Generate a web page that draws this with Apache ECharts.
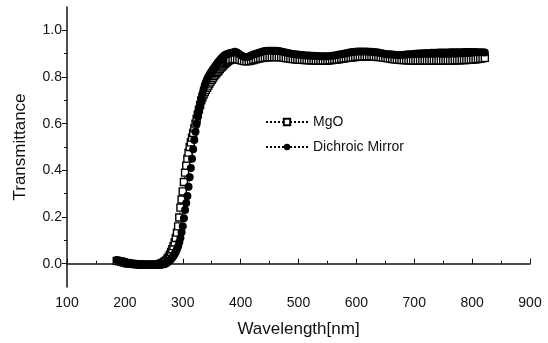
<!DOCTYPE html>
<html>
<head>
<meta charset="utf-8">
<script src="https://cdn.jsdelivr.net/npm/echarts@6/dist/echarts.min.js"></script>
<style>
  html, body { margin: 0; padding: 0; background: #fff; }
  #chart { width: 548px; height: 343px; }
</style>
</head>
<body>
<div id="chart"></div>
<script>
// wavelength samples (nm), shared by both curves
const wavelength = [
  186, 190, 194, 198, 202, 206, 210, 214, 218, 222, 226, 230, 234, 238, 242, 246, 250, 254, 258, 262,
  264, 266, 268, 270, 272, 274, 276, 278, 280, 282, 284, 286, 288, 290, 292, 294, 296, 298, 300, 302,
  304, 306, 308, 310, 312, 314, 316, 318, 320, 322, 324, 326, 328, 330, 332, 334, 336, 338, 340, 342,
  344, 346, 348, 350, 352, 354, 356, 358, 360, 362, 364, 366, 368, 370, 372, 374, 376, 378, 380, 382,
  386, 390, 394, 398, 402, 406, 410, 414, 418, 422, 426, 430, 434, 438, 442, 446, 450, 454, 458, 462,
  466, 470, 474, 478, 482, 486, 490, 494, 498, 502, 506, 510, 514, 518, 522, 526, 530, 534, 538, 542,
  546, 550, 554, 558, 562, 566, 570, 574, 578, 582, 586, 590, 594, 598, 602, 606, 610, 614, 618, 622,
  626, 630, 634, 638, 642, 646, 650, 654, 658, 662, 666, 670, 674, 678, 682, 686, 690, 694, 698, 702,
  706, 710, 714, 718, 722, 726, 730, 734, 738, 742, 746, 750, 754, 758, 762, 766, 770, 774, 778, 782,
  786, 790, 794, 798, 802, 806, 810, 814, 818, 822
]

const mgo = [
  0.012, 0.010, 0.008, 0.005, 0.003, 0.001, 0.000, -0.001, -0.002, -0.003, -0.003, -0.004, -0.004, -0.004, -0.004, -0.004, -0.004, -0.003, -0.002, 0.000,
  0.002, 0.004, 0.007, 0.011, 0.016, 0.022, 0.030, 0.039, 0.050, 0.062, 0.075, 0.091, 0.110, 0.133, 0.160, 0.198, 0.240, 0.275, 0.310, 0.350,
  0.390, 0.420, 0.450, 0.476, 0.500, 0.520, 0.540, 0.560, 0.580, 0.600, 0.620, 0.640, 0.660, 0.680, 0.700, 0.713, 0.725, 0.735, 0.745, 0.754,
  0.763, 0.772, 0.780, 0.788, 0.795, 0.803, 0.810, 0.816, 0.822, 0.828, 0.834, 0.840, 0.845, 0.850, 0.855, 0.860, 0.864, 0.868, 0.872, 0.874,
  0.876, 0.877, 0.876, 0.874, 0.871, 0.868, 0.867, 0.868, 0.870, 0.873, 0.876, 0.878, 0.880, 0.882, 0.883, 0.884, 0.885, 0.885, 0.885, 0.885,
  0.885, 0.884, 0.883, 0.881, 0.880, 0.878, 0.877, 0.876, 0.875, 0.874, 0.874, 0.873, 0.873, 0.872, 0.872, 0.872, 0.871, 0.871, 0.871, 0.871,
  0.871, 0.871, 0.872, 0.873, 0.874, 0.875, 0.876, 0.878, 0.879, 0.881, 0.882, 0.883, 0.884, 0.886, 0.887, 0.888, 0.888, 0.889, 0.889, 0.889,
  0.889, 0.888, 0.887, 0.886, 0.885, 0.883, 0.882, 0.880, 0.879, 0.877, 0.876, 0.875, 0.874, 0.873, 0.873, 0.872, 0.872, 0.872, 0.871, 0.871,
  0.871, 0.871, 0.871, 0.871, 0.871, 0.871, 0.871, 0.871, 0.871, 0.871, 0.871, 0.871, 0.871, 0.871, 0.871, 0.871, 0.872, 0.872, 0.872, 0.873,
  0.873, 0.873, 0.874, 0.874, 0.875, 0.876, 0.877, 0.878, 0.880, 0.882
]

const dichroic = [
  0.016, 0.014, 0.011, 0.008, 0.005, 0.002, 0.000, -0.002, -0.003, -0.004, -0.005, -0.005, -0.006, -0.006, -0.006, -0.006, -0.006, -0.006, -0.006, -0.005,
  -0.004, -0.003, -0.002, 0.000, 0.003, 0.006, 0.010, 0.015, 0.020, 0.026, 0.033, 0.041, 0.050, 0.062, 0.075, 0.092, 0.110, 0.135, 0.160, 0.195,
  0.230, 0.260, 0.290, 0.330, 0.370, 0.410, 0.450, 0.490, 0.530, 0.565, 0.600, 0.630, 0.655, 0.680, 0.703, 0.727, 0.748, 0.765, 0.778, 0.790,
  0.800, 0.809, 0.817, 0.825, 0.832, 0.839, 0.846, 0.853, 0.860, 0.866, 0.872, 0.878, 0.883, 0.888, 0.892, 0.895, 0.897, 0.899, 0.901, 0.903,
  0.905, 0.908, 0.905, 0.898, 0.891, 0.887, 0.886, 0.888, 0.892, 0.896, 0.900, 0.903, 0.906, 0.909, 0.911, 0.912, 0.912, 0.912, 0.912, 0.912,
  0.911, 0.909, 0.907, 0.905, 0.903, 0.901, 0.899, 0.897, 0.896, 0.895, 0.894, 0.893, 0.892, 0.892, 0.891, 0.891, 0.890, 0.890, 0.889, 0.889,
  0.889, 0.889, 0.890, 0.891, 0.892, 0.894, 0.896, 0.898, 0.900, 0.902, 0.904, 0.906, 0.907, 0.908, 0.909, 0.909, 0.909, 0.909, 0.909, 0.908,
  0.908, 0.907, 0.906, 0.905, 0.903, 0.901, 0.899, 0.898, 0.897, 0.896, 0.895, 0.894, 0.894, 0.894, 0.895, 0.896, 0.897, 0.898, 0.899, 0.900,
  0.901, 0.901, 0.902, 0.902, 0.903, 0.903, 0.904, 0.904, 0.904, 0.905, 0.905, 0.905, 0.905, 0.905, 0.906, 0.906, 0.906, 0.906, 0.906, 0.906,
  0.907, 0.907, 0.907, 0.907, 0.907, 0.907, 0.906, 0.906, 0.906, 0.905
]

const seriesNames = ['MgO', 'Dichroic Mirror']
const yLabelTicks = [0, 0.2, 0.4, 0.6, 0.8, 1.0]
const yMinorTicks = [0.1, 0.3, 0.5, 0.7, 0.9]

const font = 'Liberation Sans, Arial, sans-serif'
const ink = '#111'

const chart = echarts.init(document.getElementById('chart'), null, { renderer: 'canvas' })

chart.setOption({
  animation: false,
  backgroundColor: '#fff',
  textStyle: { fontFamily: font, color: ink },
  grid: { left: 67, right: 18, top: 7, bottom: 56 },
  legend: {
    data: seriesNames,
    orient: 'vertical',
    left: 260,
    top: 110,
    itemWidth: 42,
    itemHeight: 8,
    itemGap: 11,
    textStyle: { fontSize: 14, color: ink, fontFamily: font },
  },
  xAxis: {
    type: 'value',
    min: 100,
    max: 900,
    interval: 100,
    name: 'Wavelength[nm]',
    nameLocation: 'middle',
    nameGap: 34,
    nameTextStyle: { fontSize: 17, color: ink },
    axisLine: { lineStyle: { color: ink, width: 1.5 } },
    axisTick: { inside: true, length: 5, lineStyle: { color: ink } },
    minorTick: { show: true, splitNumber: 2, length: 3, lineStyle: { color: ink } },
    axisLabel: { fontSize: 14, color: ink, margin: 9 },
    splitLine: { show: false },
  },
  yAxis: [
    {
      type: 'value',
      min: -0.1,
      max: 1.1,
      interval: 0.1,
      name: 'Transmittance',
      nameLocation: 'middle',
      nameGap: 38,
      nameTextStyle: { fontSize: 17, color: ink },
      axisLine: { lineStyle: { color: ink, width: 1.5 } },
      axisTick: { length: 5, customValues: yLabelTicks, lineStyle: { color: ink } },
      axisLabel: {
        fontSize: 14,
        color: ink,
        margin: 5,
        customValues: yLabelTicks,
        formatter: (v) => Number(v).toFixed(1),
      },
      splitLine: { show: false },
    },
    {
      type: 'value',
      position: 'left',
      min: -0.1,
      max: 1.1,
      interval: 0.1,
      axisLine: { show: false },
      axisTick: { length: 3, customValues: yMinorTicks, lineStyle: { color: ink } },
      axisLabel: { show: false },
      splitLine: { show: false },
    },
  ],
  series: [
    {
      name: 'MgO',
      type: 'line',
      z: 2,
      data: wavelength.map((w, i) => [w, mgo[i]]),
      symbol: 'rect',
      symbolSize: 7,
      showSymbol: true,
      itemStyle: { color: '#fff', borderColor: '#000', borderWidth: 1.4 },
      lineStyle: { color: '#000', width: 0.8, type: [2, 2] },
      emphasis: { disabled: true },
    },
    {
      name: 'Dichroic Mirror',
      type: 'line',
      z: 3,
      data: wavelength.map((w, i) => [w, dichroic[i]]),
      symbol: 'circle',
      symbolSize: 8,
      showSymbol: true,
      itemStyle: { color: '#000', borderColor: '#000', borderWidth: 0 },
      lineStyle: { color: '#000', width: 0.8, type: [2, 2] },
      emphasis: { disabled: true },
    },
  ],
})
</script>
</body>
</html>
